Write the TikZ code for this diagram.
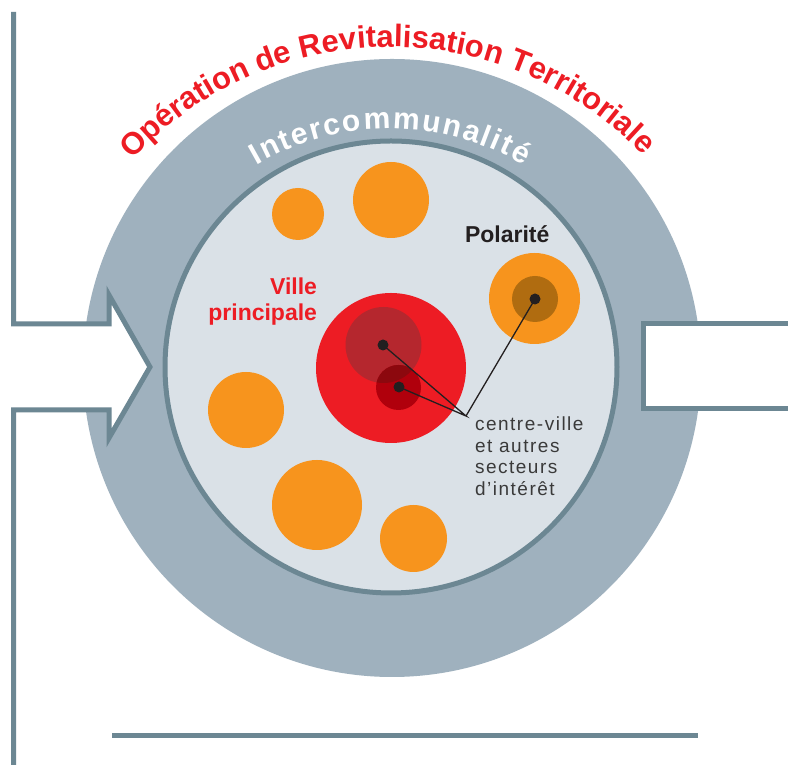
\documentclass[tikz,border=0pt]{standalone}
\usepackage{fontspec}
\setmainfont{Liberation Sans}
\newfontfamily\smallfont[LetterSpace=8]{Liberation Sans}
\usetikzlibrary{decorations.text}
\definecolor{ringgrey}{HTML}{9FB1BE}
\definecolor{linegrey}{HTML}{6C8793}
\definecolor{innerfill}{HTML}{DAE1E7}
\definecolor{orangec}{HTML}{F7941D}
\definecolor{redc}{HTML}{ED1C24}
\definecolor{midred}{HTML}{B5272E}
\definecolor{darkred}{HTML}{B0000C}
\definecolor{overlapred}{HTML}{8C080E}
\definecolor{brownc}{HTML}{B06C10}
\definecolor{dotc}{HTML}{231F20}
\definecolor{textc}{HTML}{3A3A3A}
\newcommand{\lsp}{\kern2pt}
\begin{document}
\begin{tikzpicture}[x=1pt,y=1pt,
  frame/.style={draw=linegrey,line width=5pt,miter limit=10},
  orangedisc/.style={fill=orangec},
  dotmark/.style={fill=dotc},
  leader/.style={draw=dotc,line width=1.3pt},
  label/.style={inner sep=0pt,outer sep=0pt}]
\useasboundingbox[fill=white] (0,0) rectangle (788,765);
% centres
\coordinate (oc) at (392,397);
\coordinate (ic) at (391,398);
\coordinate (tc) at (390,368);
\coordinate (nc) at (390,371);
% outer ring
\fill[ringgrey] (oc) circle[radius=309pt];
% white arrow and opening
\fill[white] (13.5,441) -- (109,441) -- (109,470) -- (150,398) -- (109,327) -- (109,355) -- (13.5,355) -- cycle;
\fill[white] (643,356) rectangle (788,441);
% inner disc
\draw[linegrey,line width=5pt,fill=innerfill] (ic) circle[radius=226pt];
% frame lines
\draw[frame] (13.5,753) -- (13.5,441) -- (109,441) -- (109,470) -- (150,398) -- (109,327) -- (109,355) -- (13.5,355) -- (13.5,0);
\draw[frame] (788,441) -- (643,441) -- (643,356) -- (788,356);
\draw[frame] (112,29) -- (698,29);
% curved titles
\path[decorate,decoration={text along path,text align=center,
  text={|\bfseries\fontsize{31}{37}\selectfont\color{redc}|Opération de Revitalisation Territoriale}}]
  (tc) ++(181:350pt) arc[start angle=181,end angle=0,radius=350pt];
\path[decorate,decoration={text along path,text align=center,
  text={|\bfseries\fontsize{30}{34}\selectfont\color{white}|{I\lsp}{n\lsp}{t\lsp}{e\lsp}{r\lsp}{c\lsp}{o\lsp}{m\lsp}{m\lsp}{u\lsp}{n\lsp}{a\lsp}{l\lsp}{i\lsp}{t\lsp}{é}}}]
  (nc) ++(180:265pt) arc[start angle=180,end angle=0,radius=265pt];
% orange discs
\fill[orangedisc] (298,551) circle[radius=26pt];
\fill[orangedisc] (391,565) circle[radius=38pt];
\fill[orangedisc] (246,355) circle[radius=38pt];
\fill[orangedisc] (317,260) circle[radius=45pt];
\fill[orangedisc] (413.5,226.5) circle[radius=33.5pt];
\fill[orangedisc] (534.5,466.5) circle[radius=45.5pt];
\fill[brownc] (535,466) circle[radius=23pt];
% main town
\fill[redc] (391,397) circle[radius=75pt];
\fill[midred] (383.5,420) circle[radius=38pt];
\fill[darkred] (398.5,377.5) circle[radius=22.5pt];
\begin{scope}
  \clip (383.5,420) circle[radius=38pt];
  \fill[overlapred] (398.5,377.5) circle[radius=22.5pt];
\end{scope}
% dots and leaders
\coordinate (d1) at (383,420);
\coordinate (d2) at (399,378);
\coordinate (d3) at (535,466);
\coordinate (conv) at (466,349);
\draw[leader] (d1) -- (conv) -- (d2);
\draw[leader] (conv) -- (d3);
\fill[dotmark] (d1) circle[radius=5.5pt];
\fill[dotmark] (d2) circle[radius=5.5pt];
\fill[dotmark] (d3) circle[radius=5.5pt];
% labels
\node[label,anchor=base west,text=dotc,font=\bfseries\fontsize{23}{26}\selectfont] (pol) at (465,522) {Polarité};
\node[label,anchor=north east,align=right,text=redc,font=\bfseries\fontsize{23}{26}\selectfont] (ville) at (317,487.5) {Ville\\principale};
\node[label,anchor=north west,align=left,text=textc,font=\smallfont\fontsize{19}{21.5}\selectfont] (cv) at (475,348) {centre-ville\\et autres\\secteurs\\d’intérêt};
\end{tikzpicture}
\end{document}
